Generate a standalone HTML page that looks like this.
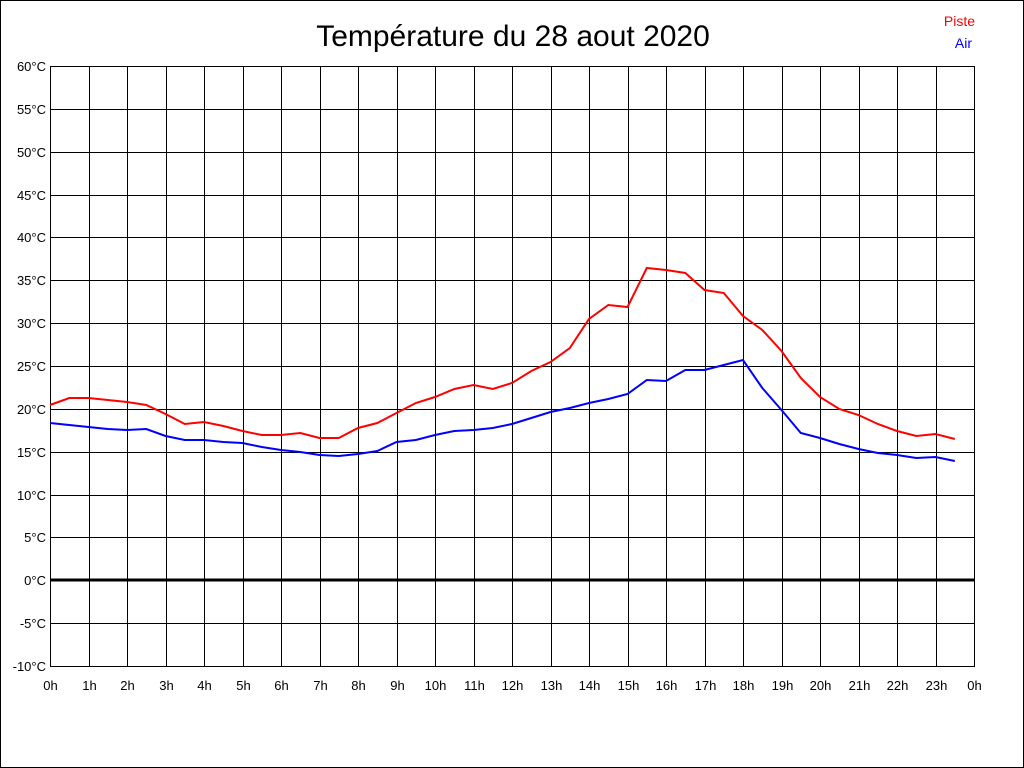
<!DOCTYPE html>
<html><head><meta charset="utf-8"><style>
body{margin:0;background:#fff}
svg{display:block}
text{font-family:"Liberation Sans",Arial,sans-serif}
</style></head><body>
<svg width="1024" height="768" xmlns="http://www.w3.org/2000/svg">
<rect x="0.5" y="0.5" width="1023" height="767" fill="#fff" stroke="#000"/>
<text x="513" y="46" font-size="30" text-anchor="middle">Température du 28 aout 2020</text>
<text x="975" y="26" font-size="14" fill="#f00" text-anchor="end">Piste</text>
<text x="972" y="48" font-size="14" fill="#00f" text-anchor="end">Air</text>
<g id="grid" stroke="#000" stroke-width="1">
<rect x="50.5" y="66.5" width="924" height="600" fill="none"/>
</g>
<script>
(function(){
var ns="http://www.w3.org/2000/svg",svg=document.querySelector('svg'),g=document.getElementById('grid');
function el(n,a,p){var e=document.createElementNS(ns,n);for(var k in a)e.setAttribute(k,a[k]);(p||svg).appendChild(e);return e;}
for(var i=0;i<=14;i++){var y=66+i*600/14,t=60-5*i;var yy=Math.round(y)+0.5;
 el('line',{x1:50,x2:974,y1:yy,y2:yy},g);
 var tx=el('text',{x:46,y:Math.round(y)+5,'font-size':13,'text-anchor':'end'});tx.textContent=t+'°C';}
for(var h=0;h<=24;h++){var x=Math.round(50+h*38.5)+0.5;
 el('line',{x1:x,x2:x,y1:66,y2:666},g);
 var tx=el('text',{x:x,y:690,'font-size':13,'text-anchor':'middle'});tx.textContent=(h%24)+'h';}
el('line',{x1:50,x2:974,y1:580,y2:580,stroke:'#000','stroke-width':3});
var red=[405,398,398,400,402,405,414,424,422,426,431,435,435,433,438,438,428,423,413,403,397,389,385,389,383,371,362,348,319,305,307,268,270,273,290,293,316,330,351,378,397,409,415,424,431,436,434,439];
var blue=[423,425,427,429,430,429,436,440,440,442,443,447,450,452,455,456,454,451,442,440,435,431,430,428,424,418,412,408,403,399,394,380,381,370,370,365,360,388,410,433,438,444,449,453,455,458,457,461];
function pl(d,c){var p=d.map(function(y,i){return (50+i*19.25).toFixed(1)+','+y;}).join(' ');
 el('polyline',{points:p,fill:'none',stroke:c,'stroke-width':2});}
pl(red,'#f00');pl(blue,'#00f');
})();
</script>
</svg>
</body></html>
